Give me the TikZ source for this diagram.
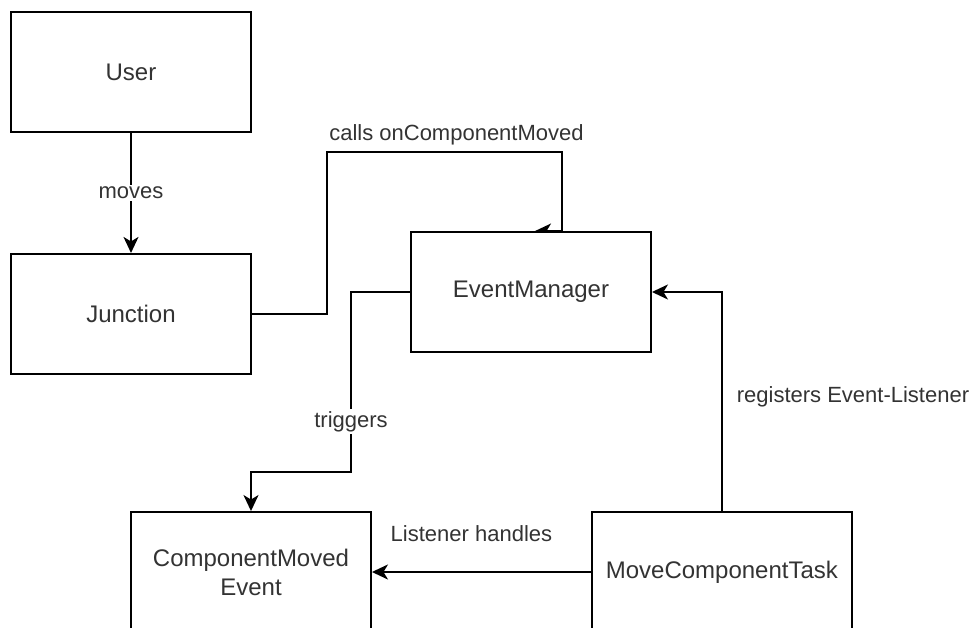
\documentclass[tikz,border=0pt]{standalone}
\usepackage{fontspec}
\setmainfont{Liberation Sans}
\usetikzlibrary{positioning, arrows.meta, backgrounds}

\begin{document}
\begin{tikzpicture}[
    x=1pt, y=-1pt,
    node distance=120pt and 220pt,
    entity/.style={draw, fill=white, minimum width=240pt, minimum height=120pt, align=center, text=black!80, font=\fontsize{24}{29}\selectfont},
    lbl/.style={text=black!80, font=\fontsize{22}{26}\selectfont, inner sep=2pt},
    flow/.style={->, line width=1.9pt},
    >={Stealth[length=16pt, width=15pt, inset=4.5pt]},
    line width=1.9pt
]
\useasboundingbox (0,0) rectangle (972,628);

\node (user)     [entity] at (131,72) {User};
\node (junction) [entity, below=of user] {Junction};
\node (evmgr)    [entity] at (531,292) {EventManager};
\node (cmevent)  [entity] at (251,572) {ComponentMoved\\Event};
\node (task)     [entity, minimum width=260pt, right=219pt of cmevent] {MoveComponentTask};

\coordinate (callsA) at (327,152);
\coordinate (callsB) at (562,152);
\coordinate (trigA)  at (351,472);

\begin{scope}[on background layer]
\draw[flow] (user) -- node[lbl, fill=white] {moves} (junction);

\draw[flow] (junction.east) -| (callsA) -- node[lbl, above=4pt, xshift=12pt] {calls onComponentMoved} (callsB)
    -- (callsB |- evmgr.north) -- ([xshift=4pt]evmgr.north);

\draw[flow] (evmgr.west) -| node[lbl, pos=0.86, fill=white] {triggers} (trigA) -| (cmevent.north);

\draw[flow] (task) -- node[lbl, above=27pt, xshift=-10pt] {Listener handles} (cmevent);

\draw[flow] (task.north) |- node[lbl, pos=0.26, right=12pt] {registers Event-Listener} (evmgr.east);
\end{scope}

\end{tikzpicture}
\end{document}
